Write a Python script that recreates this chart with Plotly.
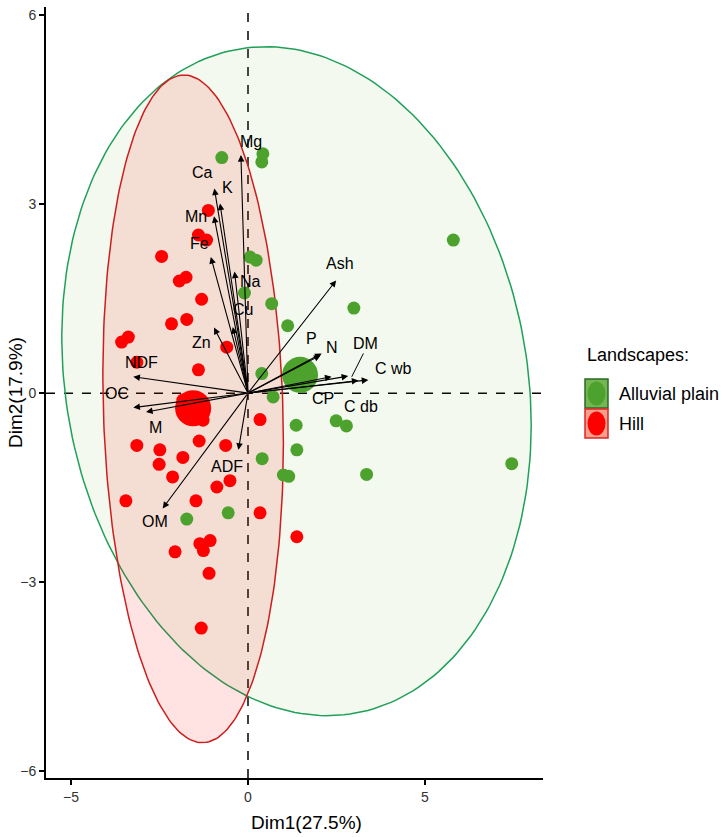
import numpy as np
import plotly.graph_objects as go

# ---------------- data ----------------
alluvial_dim1 = [-0.74, 0.42, 0.39, 5.80, 7.45, 0.06, 0.23, -0.10, 0.67, 1.12, 2.99, 0.39,
                 0.71, 1.36, 1.38, 2.49, 2.78, 0.40, 1.00, 1.15, 3.35, -0.56, -1.73]
alluvial_dim2 = [3.74, 3.80, 3.67, 2.43, -1.12, 2.16, 2.11, 1.59, 1.42, 1.07, 1.35, 0.31,
                 -0.06, -0.51, -0.90, -0.44, -0.52, -1.04, -1.30, -1.32, -1.29, -1.90, -2.00]

hill_dim1 = [-1.12, -1.40, -1.17, -2.44, -1.94, -1.75, -1.31, -2.16, -1.73, -3.57, -3.38, -0.60,
             -3.14, -1.40, 0.34, -3.14, -2.49, -2.51, -1.84, -1.38, -0.63, -2.13, -0.88, -0.51,
             -3.45, -1.47, 0.34, 1.38, -2.06, -1.36, -1.07, -1.26, -1.10, -1.32, -1.84, -1.27]
hill_dim2 = [2.90, 2.51, 2.43, 2.17, 1.78, 1.84, 1.49, 1.10, 1.17, 0.81, 0.89, 0.73,
             0.49, 0.37, -0.42, -0.83, -0.90, -1.13, -1.02, -0.76, -0.83, -1.33, -1.49, -1.39,
             -1.71, -1.71, -1.90, -2.28, -2.52, -2.39, -2.34, -2.50, -2.86, -3.73, -0.11, -0.43]

group_names = ["Alluvial plain", "Hill"]
centroid_dim1 = [1.47, -1.55]
centroid_dim2 = [0.29, -0.24]

# confidence ellipses: centre, half-extent along Dim1, half-extent along Dim2, cross term
ellipse_center_x = [1.37, -1.55]
ellipse_center_y = [0.19, -0.25]
ellipse_half_x = [6.63, 2.55]
ellipse_half_y = [5.31, 5.30]
ellipse_cross = [-4.62, -1.38]

var_names = ["Mg", "Ca", "K", "Mn", "Fe", "Na", "Cu", "Zn", "NDF", "OC", "M", "ADF", "OM",
             "Ash", "P", "N", "CP", "DM", "C db", "C wb"]
var_dim1 = [-0.20, -0.95, -0.79, -0.96, -1.05, -0.38, -0.43, -0.96, -3.24, -3.24, -2.88, -0.27,
            -2.41, 2.49, 2.08, 2.05, 2.36, 2.83, 3.12, 3.40]
var_dim2 = [3.78, 3.25, 3.01, 2.81, 2.16, 1.93, 1.05, 1.04, 0.26, -0.23, -0.30, -0.90,
            -1.83, 1.79, 0.63, 0.60, 0.26, 0.27, 0.20, 0.21]
label_dim1 = [0.08, -1.28, -0.57, -1.47, -1.38, 0.06, -0.15, -1.31, -3.00, -3.71, -2.60, -0.58,
              -2.63, 2.60, 1.80, 2.36, 2.13, 3.33, 3.18, 4.10]
label_dim2 = [3.99, 3.50, 3.27, 2.80, 2.37, 1.78, 1.32, 0.80, 0.48, 0.00, -0.54, -1.16,
              -2.03, 2.06, 0.87, 0.73, -0.08, 0.79, -0.22, 0.39]
dm_leader_dim1 = [3.26, 2.93]
dm_leader_dim2 = [0.63, 0.26]

x_ticks = [-5, 0, 5]
y_ticks = [-6, -3, 0, 3, 6]
x_title = "Dim1(27.5%)"
y_title = "Dim2(17.9%)"
legend_title = "Landscapes:"

# ---------------- layout geometry ----------------
W, H = 722, 837
PL, PR, PT, PB = 46, 543, 7, 778
X_RANGE = [-5.706, 8.333]
Y_RANGE = [-6.11, 6.13]

FONT = "Liberation Sans Narrow, Arial Narrow, Liberation Sans, Arial"
GREEN = "rgb(77,162,46)"
RED = "rgb(255,0,0)"


def pp(px, py):
    return (px - PL) / (PR - PL), (PB - py) / (PB - PT)


def ellipse_xy(cx, cy, hx, hy, cxy, n=240):
    m = np.array([[hx ** 2, cxy], [cxy, hy ** 2]])
    lc = np.linalg.cholesky(m)
    t = np.linspace(0, 2 * np.pi, n)
    pts = lc @ np.vstack([np.cos(t), np.sin(t)])
    return pts[0] + cx, pts[1] + cy


fig = go.Figure()

ell_line = ["rgb(32,160,90)", "rgb(205,30,30)"]
ell_fill = ["rgba(100,180,40,0.08)", "rgba(255,0,0,0.11)"]
for i in range(2):
    ex, ey = ellipse_xy(ellipse_center_x[i], ellipse_center_y[i], ellipse_half_x[i],
                        ellipse_half_y[i], ellipse_cross[i])
    fig.add_trace(go.Scatter(x=ex, y=ey, mode="lines", fill="toself",
                             fillcolor=ell_fill[i], line=dict(color=ell_line[i], width=1.5),
                             hoverinfo="skip", showlegend=False))

fig.add_trace(go.Scatter(x=alluvial_dim1, y=alluvial_dim2, mode="markers",
                         marker=dict(color=GREEN, size=13), name=group_names[0], showlegend=False))
fig.add_trace(go.Scatter(x=hill_dim1, y=hill_dim2, mode="markers",
                         marker=dict(color=RED, size=13), name=group_names[1], showlegend=False))
fig.add_trace(go.Scatter(x=centroid_dim1, y=centroid_dim2, mode="markers",
                         marker=dict(color=[GREEN, RED], size=36), showlegend=False))

fig.add_trace(go.Scatter(x=dm_leader_dim1, y=dm_leader_dim2, mode="lines",
                         line=dict(color="black", width=1), showlegend=False))

for x, y in zip(var_dim1, var_dim2):
    fig.add_annotation(x=x, y=y, ax=0, ay=0, xref="x", yref="y", axref="x", ayref="y",
                       text="", showarrow=True, arrowhead=2, arrowsize=1.2, arrowwidth=1.1,
                       arrowcolor="black", standoff=0, startstandoff=0)

for name, x, y in zip(var_names, label_dim1, label_dim2):
    fig.add_annotation(x=x, y=y, xref="x", yref="y", text=name, showarrow=False,
                       xanchor="center", yanchor="middle",
                       font=dict(family=FONT, size=16, color="black"))

# reference dashed lines
fig.add_shape(type="line", xref="x", yref="paper", x0=0, x1=0, y0=0, y1=1,
              line=dict(color="black", width=1.5, dash="dash"), layer="below")
fig.add_shape(type="line", xref="paper", yref="y", x0=0, x1=1, y0=0, y1=0,
              line=dict(color="black", width=1.5, dash="dash"), layer="below")

# axis titles
ax_, ay_ = pp(306, 822)
fig.add_annotation(x=ax_, y=ay_, xref="paper", yref="paper", text=x_title, showarrow=False,
                   xanchor="center", yanchor="middle",
                   font=dict(family=FONT, size=19, color="black"))
ax_, ay_ = pp(15, 393)
fig.add_annotation(x=ax_, y=ay_, xref="paper", yref="paper", text=y_title, showarrow=False,
                   xanchor="center", yanchor="middle",
                   textangle=-90, font=dict(family=FONT, size=19, color="black"))

# legend (drawn by hand)
lx, ly = pp(585, 355)
fig.add_annotation(x=lx, y=ly, xref="paper", yref="paper", text=legend_title, showarrow=False,
                   xanchor="left", yanchor="middle",
                   font=dict(family=FONT, size=18, color="black"))
key_fill = ["rgb(118,182,80)", "rgb(246,160,140)"]
key_line = ["rgb(40,105,45)", "rgb(225,35,35)"]
key_dot = [GREEN, RED]
for i, name in enumerate(group_names):
    top = 379 + 30 * i
    x0, y0 = pp(585, top + 29)
    x1, y1 = pp(608, top)
    fig.add_shape(type="rect", xref="paper", yref="paper", x0=x0, y0=y0, x1=x1, y1=y1,
                  fillcolor=key_fill[i], line=dict(color=key_line[i], width=1.5))
    x0, y0 = pp(587.5, top + 26.5)
    x1, y1 = pp(605.5, top + 2.5)
    fig.add_shape(type="circle", xref="paper", yref="paper", x0=x0, y0=y0, x1=x1, y1=y1,
                  fillcolor=key_dot[i], line=dict(width=0))
    tx, ty = pp(617, top + 14.5)
    fig.add_annotation(x=tx, y=ty, xref="paper", yref="paper", text=name, showarrow=False,
                       xanchor="left", yanchor="middle",
                       font=dict(family=FONT, size=18, color="black"))

fig.update_layout(
    template="none",
    width=W, height=H,
    margin=dict(l=PL, r=W - PR, t=PT, b=H - PB, pad=0),
    paper_bgcolor="white", plot_bgcolor="white",
    showlegend=False,
    xaxis=dict(range=X_RANGE, tickvals=x_ticks, ticks="outside", ticklen=5, tickwidth=1.5,
               tickcolor="black", showline=True, linecolor="black", linewidth=2,
               showgrid=False, zeroline=False, automargin=False,
               tickfont=dict(family=FONT, size=14, color="#333333")),
    yaxis=dict(range=Y_RANGE, tickvals=y_ticks, ticks="outside", ticklen=5, tickwidth=1.5,
               tickcolor="black", showline=True, linecolor="black", linewidth=2,
               showgrid=False, zeroline=False, automargin=False,
               tickfont=dict(family=FONT, size=14, color="#333333")),
)

fig.write_html("out.html")
